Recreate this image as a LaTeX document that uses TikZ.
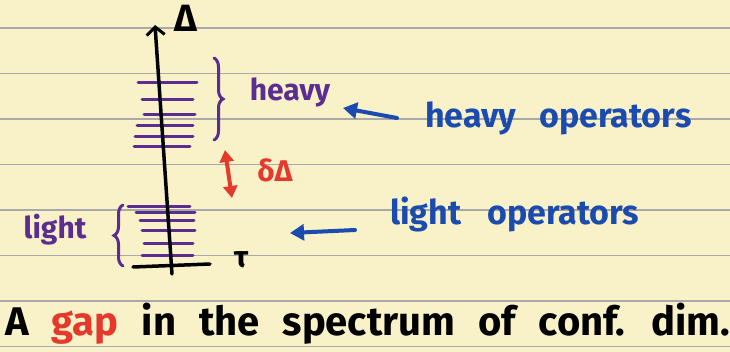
\documentclass[tikz,border=0pt]{standalone}
\usepackage{fontspec}
\setmainfont{Fira Sans}
\usetikzlibrary{arrows.meta,decorations.pathreplacing}
\definecolor{paper}{HTML}{F9F2C9}
\definecolor{rulecol}{HTML}{A9A9A9}
\definecolor{opcol}{HTML}{5B2D90}
\definecolor{bluecol}{HTML}{1B4BAE}
\definecolor{redcol}{HTML}{E5392B}
\begin{document}
\begin{tikzpicture}[x=1pt,y=-1pt,
  ruling/.style={rulecol,line width=1.2pt},
  level/.style={opcol,line width=3pt,line cap=round},
  axisline/.style={black,line width=3.5pt,line cap=round},
  bracestyle/.style={opcol,line width=3pt,line cap=round,decorate},
  bluearrow/.style={bluecol,line width=4pt,line cap=round,-{Triangle[length=14pt,width=16pt]}},
  purpletext/.style={opcol,font=\fontsize{30}{34}\selectfont\bfseries,inner sep=0pt},
  bluetext/.style={bluecol,font=\fontsize{34}{40}\selectfont\bfseries,inner sep=0pt}]
\fill[paper] (0,0) rectangle (730,352);
\useasboundingbox (0,0) rectangle (730,352);
\foreach \y in {28,73.5,119,164.5,210,255.5,301,346.5}
  \draw[ruling] (0,\y) -- (730,\y);
% heavy levels
\draw[level] (138,83) -- (197,83);
\draw[level] (142,100) -- (193,100);
\draw[level] (144,115) -- (195,115);
\draw[level] (137,126) -- (193,126);
\draw[level] (135,137) -- (193,137);
\draw[level] (134,147) -- (190,147);
% light levels
\draw[level] (128,207) -- (190,207);
\draw[level] (136,213) -- (195,213);
\draw[level] (140,221) -- (194,221);
\draw[level] (142,231) -- (195,231);
\draw[level] (144,244) -- (193,244);
\draw[level] (142,256) -- (193,256);
% axes
\draw[axisline,-{Straight Barb[length=8pt,width=18pt,line width=3pt]}] (172,274) -- (155,25);
\draw[axisline] (133,267) -- (210,264);
\node[font=\fontsize{38}{42}\selectfont\bfseries,inner sep=0pt] (delta) at (186,18) {Δ};
\node[font=\fontsize{30}{34}\selectfont\bfseries,inner sep=0pt] (tau) at (241,260) {τ};
% braces
\draw[bracestyle,decoration={brace,amplitude=9pt}] (214,58) -- (214,140);
\draw[bracestyle,decoration={brace,amplitude=9pt}] (123,266) -- (123,205);
\node[purpletext] (heavy) at (290,92) {heavy};
\node[purpletext] (light) at (55,230) {light};
% gap
\draw[redcol,line width=4pt,{Triangle[length=12pt,width=14pt]}-{Triangle[length=12pt,width=14pt]}] (225,150) -- (232,198);
\node[redcol,font=\fontsize{30}{34}\selectfont\bfseries,inner sep=0pt] (dD) at (275,170) {δΔ};
% operators
\node[bluetext,anchor=west] (hop) at (425,118) {\spaceskip=23pt\relax heavy operators};
\node[bluetext,anchor=west] (lop) at (390,214) {\spaceskip=26pt\relax light operators};
\coordinate (htip) at (343,108);
\coordinate (ltip) at (290,233);
\draw[bluearrow] ([xshift=-28pt,yshift=0pt]hop.west) -- (htip);
\draw[bluearrow] ([xshift=-35pt,yshift=-16pt]lop.west) -- (ltip);
% caption
\node[anchor=base west,inner sep=0pt,font=\fontsize{40}{46}\selectfont\bfseries] (cap) at (5,335)
  {\spaceskip=23pt\relax A \textcolor{redcol}{gap} in the spectrum of conf. dim.};
\end{tikzpicture}
\end{document}
